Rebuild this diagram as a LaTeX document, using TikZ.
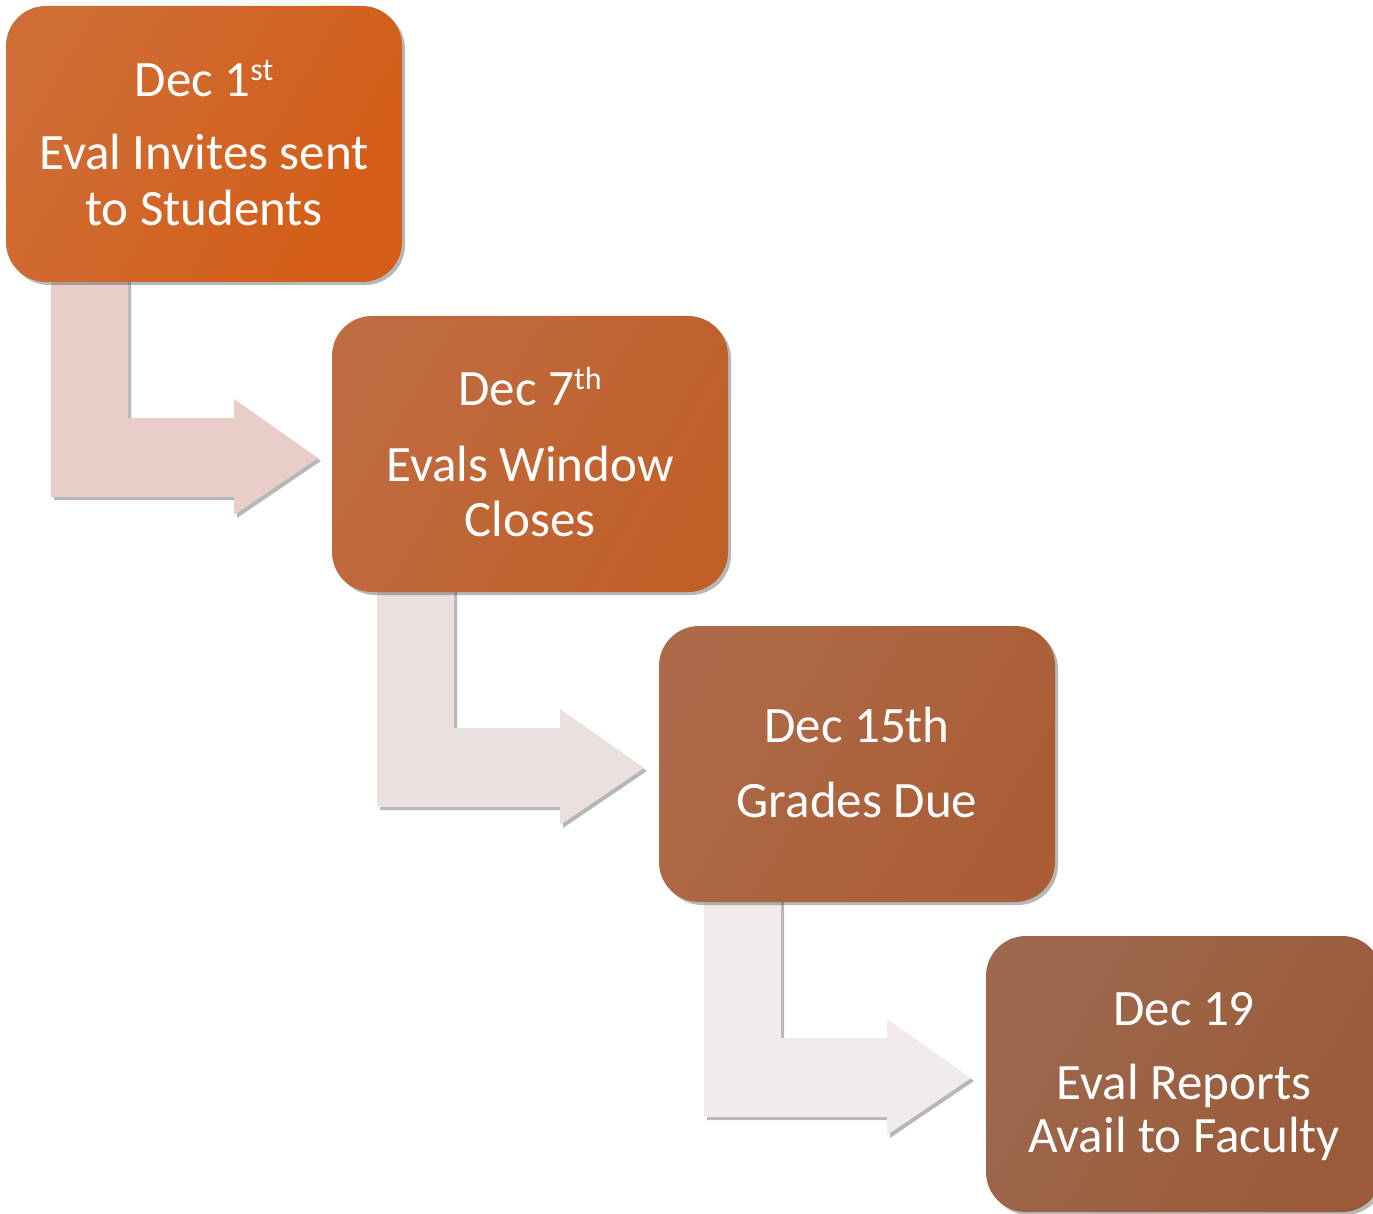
\documentclass[tikz,border=0pt]{standalone}
\usepackage{fontspec}
\setmainfont{Carlito}
\usetikzlibrary{calc,shadows}
\definecolor{arrA}{HTML}{E8CDC9}
\definecolor{arrB}{HTML}{EAE0DE}
\definecolor{arrC}{HTML}{F1ECEB}
\definecolor{bAl}{HTML}{CF6D36}
\definecolor{bAd}{HTML}{D45D17}
\definecolor{bBl}{HTML}{BE6C41}
\definecolor{bBd}{HTML}{C15F29}
\definecolor{bCl}{HTML}{AD6A48}
\definecolor{bCd}{HTML}{AB5D35}
\definecolor{bDl}{HTML}{9D684D}
\definecolor{bDd}{HTML}{9A5A39}
\newcommand{\supx}[1]{\raisebox{16pt}{\fontsize{32}{32}\selectfont #1}}
\tikzset{
  boxnode/.style={rectangle, rounded corners=40pt, minimum width=396pt, minimum height=276pt, inner sep=0pt,
    drop shadow={shadow xshift=3pt, shadow yshift=-3pt, opacity=0.4, fill=black!70}},
  txt/.style={anchor=base, text=white, font=\fontsize{51}{56}\selectfont, inner sep=0pt},
  bentarrow/.style={draw=none, drop shadow={shadow xshift=3pt, shadow yshift=-3pt, opacity=0.4, fill=black!70}},
}
\begin{document}
\begin{tikzpicture}[x=1pt, y=-1pt]
\useasboundingbox (0,0) rectangle (1373,1214);
\clip (0,0) rectangle (1373,1214);
\coordinate (c1) at (204,144);
\coordinate (c2) at (530,454);
\coordinate (c3) at (857,764);
\coordinate (c4) at (1184,1074);
% arrows
\foreach \s/\col in {c1/arrA, c2/arrB, c3/arrC}{
  \path[bentarrow, fill=\col]
    ($(\s)+(-153,126)$) -- ($(\s)+(-76,126)$) -- ($(\s)+(-76,274)$) -- ($(\s)+(30,274)$)
    -- ($(\s)+(30,255)$) -- ($(\s)+(114,314)$) -- ($(\s)+(30,371)$) -- ($(\s)+(30,353)$)
    -- ($(\s)+(-153,353)$) -- cycle;
}
% boxes
\node[boxnode, left color=bAl, right color=bAd, shading angle=60] (b1) at (c1) {};
\node[boxnode, left color=bBl, right color=bBd, shading angle=60] (b2) at (c2) {};
\node[boxnode, left color=bCl, right color=bCd, shading angle=60] (b3) at (c3) {};
\node[boxnode, left color=bDl, right color=bDd, shading angle=60] (b4) at (c4) {};
% texts
\node[txt] (t11) at ($(b1.north)+(0,91)$) {Dec 1\supx{st}};
\node[txt] (t12) at ($(b1.north)+(0,164)$) {Eval Invites sent};
\node[txt] (t13) at ($(b1.north)+(0,220)$) {to Students};
\node[txt] (t21) at ($(b2.north)+(0,90)$) {Dec 7\supx{th}};
\node[txt] (t22) at ($(b2.north)+(0,166)$) {Evals Window};
\node[txt] (t23) at ($(b2.north)+(0,221)$) {Closes};
\node[txt] (t31) at ($(b3.north)+(0,117)$) {Dec 15th};
\node[txt] (t32) at ($(b3.north)+(0,192)$) {Grades Due};
\node[txt] (t41) at ($(b4.north)+(0,90)$) {Dec 19};
\node[txt] (t42) at ($(b4.north)+(0,164)$) {Eval Reports};
\node[txt] (t43) at ($(b4.north)+(0,217)$) {Avail to Faculty};
\end{tikzpicture}
\end{document}
